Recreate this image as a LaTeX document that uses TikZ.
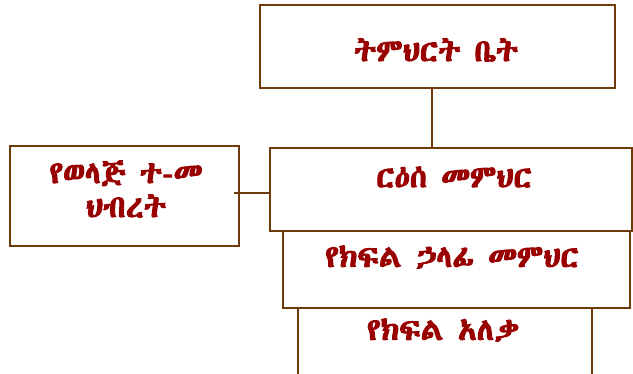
\documentclass[tikz,border=0pt]{standalone}
\usepackage{fontspec}
\def\ethname{}
\def\trycand#1{\ifx\ethname\empty
  \IfFontExistsTF{#1}{\begingroup\fontspec{#1}\iffontchar\font"1275 \endgroup\def\ethname{#1}\else\endgroup\fi}{}\fi}
\trycand{Abyssinica SIL}
\trycand{Noto Sans Ethiopic}
\trycand{Noto Serif Ethiopic}
\trycand{FreeSerif}
\trycand{FreeSans}
\trycand{Nyala}
\trycand{Kefa}
\trycand{Code2000}
\trycand{DejaVu Sans}
\trycand{Noto Sans}
\ifx\ethname\empty\def\ethname{DejaVu Sans}\fi
\newfontfamily\eth[FakeBold=3]{\ethname}
\usetikzlibrary{calc}
\definecolor{brd}{RGB}{110,58,10}
\definecolor{txt}{RGB}{153,0,0}
\tikzset{
  box/.style={draw=brd, line width=2pt, rectangle, inner sep=0pt},
  lbl/.style={text=txt, font=\eth\fontsize{31}{34}\selectfont, inner sep=0pt, align=center},
  conn/.style={draw=brd, line width=2pt}
}
\begin{document}
\begin{tikzpicture}[x=1pt,y=-1pt]
\useasboundingbox (0,0) rectangle (633,374);
\clip (0,0) rectangle (633,374);
\node[box, minimum width=355pt, minimum height=83pt] (top) at (437.5,46.5) {};
\node[box, minimum width=362pt, minimum height=83pt] (rmid) at (451,189.5) {};
\node[box, minimum width=229pt, minimum height=100pt] (left) at (124.5,196) {};
\node[box, minimum width=347pt, minimum height=77pt] (row4) at (456.5,269.5) {};
\node[box, minimum width=294pt, minimum height=80pt] (row5) at (445,348) {};
\node[lbl] (ttop) at (436,50) {ትምህርት ቤት};
\node[lbl] (trmid) at (454,177) {ርዕሰ መምህር};
\node[lbl] (tleft) at (126,189) {የወላጅ ተ-መ\\ህብረት};
\node[lbl] (trow4) at (452,257) {የክፍል ኃላፊ መምህር};
\node[lbl] (trow5) at (443,330) {የክፍል አለቃ};
\coordinate (hl) at ($(left.east)+(-6,-2.7)$);
\draw[conn] (hl) -- (hl -| rmid.west);
\coordinate (vt) at ($(top.south west)!0.484!(top.south east)$);
\draw[conn] (vt) -- (vt |- rmid.north);
\end{tikzpicture}
\end{document}
